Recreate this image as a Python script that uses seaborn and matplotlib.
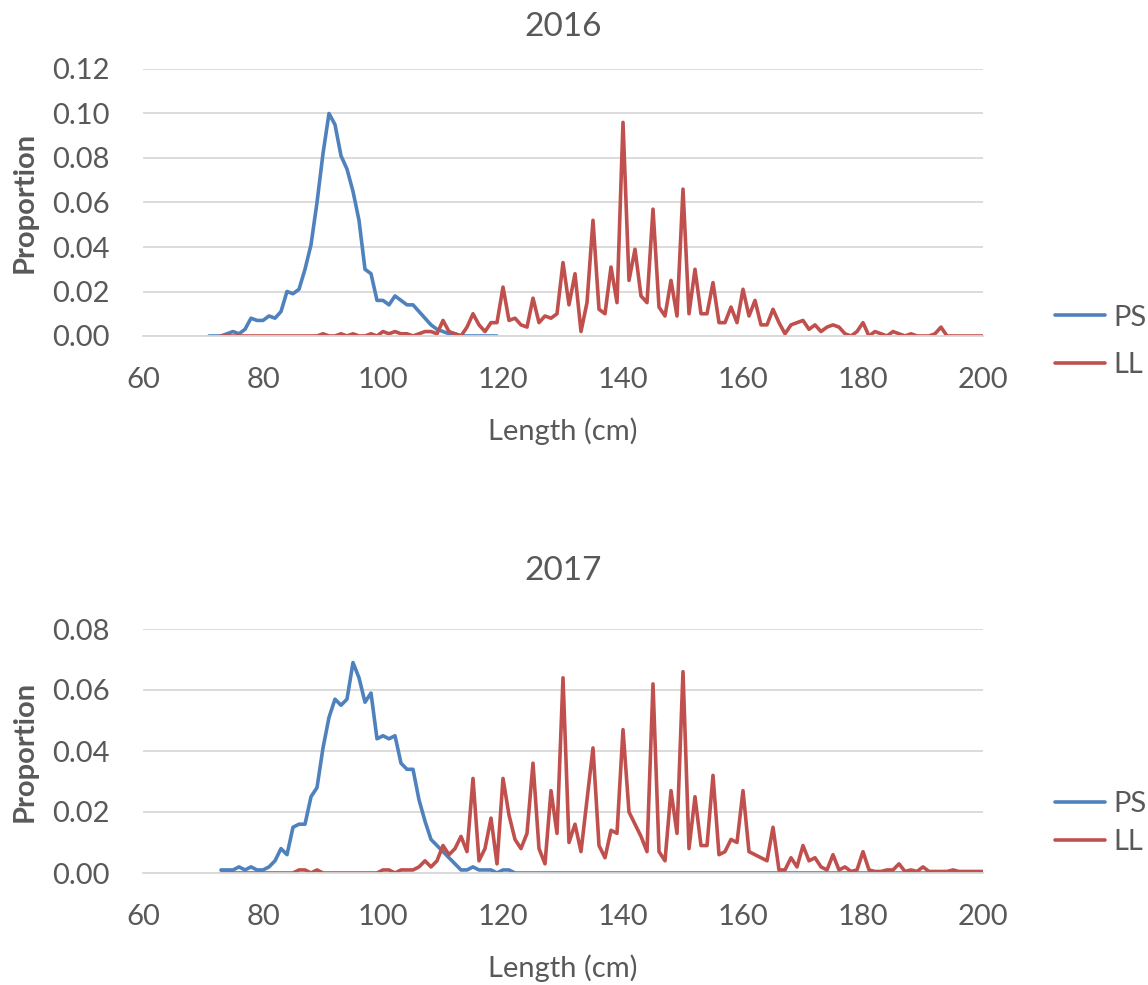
import numpy
import pandas
import seaborn
import matplotlib.pyplot as pyplot

seaborn.set_theme(style="white")
pyplot.rcParams["font.family"] = ["Lato", "DejaVu Sans"]

# length classes (cm)
Length2016PS = list(range(71, 120))
Length2016LL = list(range(73, 201))
Length2017 = list(range(73, 201))

PS2016 = [0.000, 0.000, 0.000, 0.001, 0.002, 0.001, 0.003, 0.008, 0.007, 0.007,
          0.009, 0.008, 0.011, 0.020, 0.019, 0.021, 0.030, 0.041, 0.060, 0.082,
          0.100, 0.095, 0.081, 0.075, 0.065, 0.052, 0.030, 0.028, 0.016, 0.016,
          0.014, 0.018, 0.016, 0.014, 0.014, 0.011, 0.008, 0.005, 0.003, 0.002,
          0.001, 0.001, 0.000, 0.000, 0.000, 0.000, 0.000, 0.000, 0.000]

LL2016 = [0, 0, 0, 0, 0, 0, 0, 0, 0, 0,
          0, 0, 0, 0, 0, 0, 0, 0.001, 0, 0,
          0.001, 0, 0.001, 0, 0, 0.001, 0, 0.002, 0.001, 0.002,
          0.001, 0.001, 0, 0.001, 0.002, 0.002, 0.001, 0.007, 0.002, 0.001,
          0.000, 0.004, 0.010, 0.005, 0.002, 0.006, 0.006, 0.022, 0.007, 0.008,
          0.005, 0.004, 0.017, 0.006, 0.009, 0.008, 0.010, 0.033, 0.014, 0.028,
          0.002, 0.015, 0.052, 0.012, 0.010, 0.031, 0.015, 0.096, 0.025, 0.039,
          0.018, 0.015, 0.057, 0.013, 0.009, 0.025, 0.009, 0.066, 0.010, 0.030,
          0.010, 0.010, 0.024, 0.006, 0.006, 0.013, 0.006, 0.021, 0.009, 0.016,
          0.005, 0.005, 0.012, 0.006, 0.001, 0.005, 0.006, 0.007, 0.003, 0.005,
          0.002, 0.004, 0.005, 0.004, 0.001, 0.000, 0.002, 0.006, 0.000, 0.002,
          0.001, 0.000, 0.002, 0.001, 0.000, 0.001, 0.000, 0.000, 0.000, 0.001,
          0.004, 0.000, 0, 0, 0, 0, 0, 0]

PS2017 = [0.001, 0.001, 0.001, 0.002, 0.001, 0.002, 0.001, 0.001, 0.002, 0.004,
          0.008, 0.006, 0.015, 0.016, 0.016, 0.025, 0.028, 0.041, 0.051, 0.057,
          0.055, 0.057, 0.069, 0.064, 0.056, 0.059, 0.044, 0.045, 0.044, 0.045,
          0.036, 0.034, 0.034, 0.024, 0.017, 0.011, 0.009, 0.007, 0.005, 0.003,
          0.001, 0.001, 0.002, 0.001, 0.001, 0.001, 0.000, 0.001, 0.001, 0.000] + [0.0] * 78

LL2017 = [0, 0, 0, 0, 0, 0, 0, 0, 0, 0,
          0, 0, 0, 0.001, 0.001, 0, 0.001, 0, 0, 0,
          0, 0, 0, 0, 0, 0, 0, 0.001, 0.001, 0,
          0.001, 0.001, 0.001, 0.002, 0.004, 0.002, 0.004, 0.009, 0.006, 0.008,
          0.012, 0.007, 0.031, 0.004, 0.008, 0.018, 0.003, 0.031, 0.019, 0.011,
          0.008, 0.013, 0.036, 0.008, 0.003, 0.027, 0.013, 0.064, 0.010, 0.016,
          0.007, 0.024, 0.041, 0.009, 0.005, 0.014, 0.013, 0.047, 0.020, 0.016,
          0.012, 0.007, 0.062, 0.007, 0.004, 0.027, 0.013, 0.066, 0.008, 0.025,
          0.009, 0.009, 0.032, 0.006, 0.007, 0.011, 0.010, 0.027, 0.007, 0.006,
          0.005, 0.004, 0.015, 0.001, 0.001, 0.005, 0.002, 0.009, 0.004, 0.005,
          0.002, 0.001, 0.006, 0.001, 0.002, 0.0005, 0.001, 0.007, 0.001, 0.0005,
          0.0005, 0.001, 0.001, 0.003, 0.0005, 0.001, 0.0005, 0.002, 0.0005, 0.0005,
          0.0005, 0.0005, 0.001, 0.0005, 0.0005, 0.0005, 0.0005, 0.0005]

Gears = ["PS", "LL"]
Colors = ["#4F81BD", "#C0504D"]
TextColor = "#595959"
GridColor = "#D9D9D9"

# (title, data, y max, [left, top, width, height] px, title pad, legend anchor, legend spacing)
Panels = [
    ("2016", pandas.concat([
        pandas.DataFrame({"Length": Length2016PS, "Proportion": PS2016, "Gear": "PS"}),
        pandas.DataFrame({"Length": Length2016LL, "Proportion": LL2016, "Gear": "LL"})]),
     0.12, [143, 69, 840, 267], 24, (1.055, -0.02), 0.74),
    ("2017", pandas.concat([
        pandas.DataFrame({"Length": Length2017, "Proportion": PS2017, "Gear": "PS"}),
        pandas.DataFrame({"Length": Length2017, "Proportion": LL2017, "Gear": "LL"})]),
     0.08, [143, 629, 840, 244], 35, (1.055, 0.205), 0.4),
]

fig = pyplot.figure(figsize=(11.48, 9.85), dpi=100)

for Year, Data, YMax, Box, TitlePad, LegendAnchor, LegendSpacing in Panels:
    Left, Top, Width, Height = Box
    ax = fig.add_axes([Left / 1148, 1 - (Top + Height) / 985, Width / 1148, Height / 985])
    seaborn.lineplot(data=Data, x="Length", y="Proportion", hue="Gear", hue_order=Gears,
                     palette=Colors, linewidth=2.6, ax=ax)

    ax.set_xlim(60, 200)
    ax.set_ylim(0, YMax)
    ax.set_xticks(numpy.arange(60, 201, 20))
    ax.set_yticks(numpy.arange(0, YMax + 0.001, 0.02))
    ax.set_yticklabels(["%.2f" % v for v in numpy.arange(0, YMax + 0.001, 0.02)])
    ax.yaxis.grid(True, color=GridColor, linewidth=1.3)
    ax.set_axisbelow(True)
    for Side in ["top", "right", "left"]:
        ax.spines[Side].set_visible(False)
    ax.spines["bottom"].set_color(GridColor)
    ax.spines["bottom"].set_linewidth(1.3)
    ax.tick_params(axis="x", direction="in", length=5, width=1, color=GridColor,
                   labelsize=21, labelcolor=TextColor, pad=22)
    ax.tick_params(axis="y", length=0, labelsize=21, labelcolor=TextColor, pad=24)

    ax.set_title(Year, fontsize=24, color=TextColor, pad=TitlePad)
    ax.set_xlabel("Length (cm)", fontsize=21, color=TextColor, labelpad=18)
    ax.set_ylabel("Proportion", fontsize=21, color=TextColor, fontweight="bold")
    ax.yaxis.set_label_coords(-0.126, 0.5)

    Handles, Labels = ax.get_legend_handles_labels()
    ax.legend(Handles, Labels, loc="center left", bbox_to_anchor=LegendAnchor, frameon=False,
              fontsize=21, labelcolor=TextColor, handlelength=1.7, handletextpad=0.3,
              labelspacing=LegendSpacing)

fig.savefig("out.png", dpi=100)
